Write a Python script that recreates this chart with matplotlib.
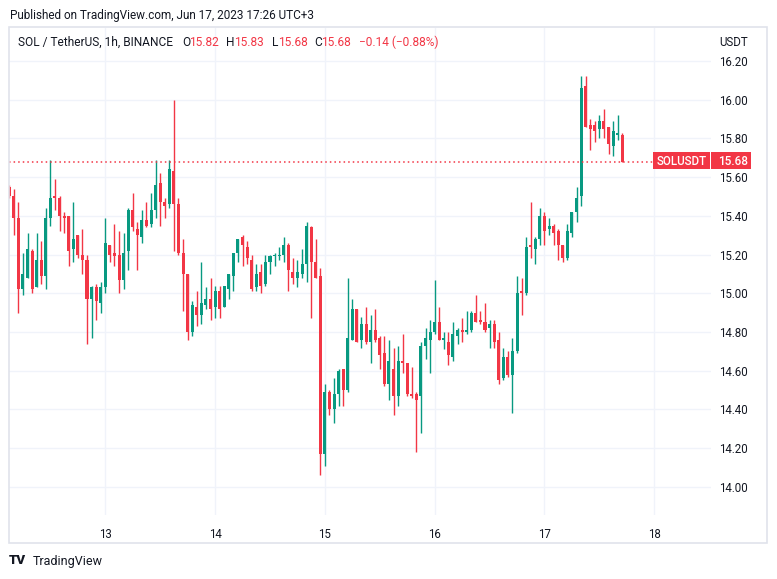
import numpy as np
import matplotlib
matplotlib.use('Agg')
import matplotlib.pyplot as plt
from matplotlib.patches import Rectangle

# hourly candles, hour 0 = Jun 12 00:00 (UTC+3)
first_hour = 3
opens = [15.55, 15.50, 15.39, 15.02, 15.08, 15.22, 15.03, 15.17, 15.09, 15.39,
         15.50, 15.49, 15.40, 15.40, 15.23, 15.30, 15.20, 15.17, 14.97, 15.03,
         14.95, 15.03, 15.25, 15.21, 15.20, 15.07, 15.22, 15.43, 15.33, 15.29,
         15.38, 15.36, 15.43, 15.57, 15.47, 15.46, 15.63, 15.46, 15.21, 15.10,
         14.80, 14.93, 14.89, 14.94, 14.97, 14.93, 15.01, 14.93, 15.02, 15.09,
         15.21, 15.29, 15.24, 15.17, 15.03, 15.11, 15.05, 15.16, 15.19, 15.19,
         15.20, 15.25, 15.11, 15.08, 15.10, 15.15, 15.34, 15.16, 15.09, 14.17,
         14.49, 14.40, 14.48, 14.61, 14.50, 14.76, 14.92, 14.76, 14.84, 14.75,
         14.81, 14.77, 14.69, 14.53, 14.61, 14.47, 14.65, 14.64, 14.48, 14.48,
         14.47, 14.73, 14.76, 14.80, 14.85, 14.76, 14.75, 14.67, 14.78, 14.81,
         14.80, 14.81, 14.90, 14.86, 14.85, 14.82, 14.84, 14.76, 14.56, 14.67,
         14.58, 14.70, 15.01, 15.00, 15.25, 15.23, 15.28, 15.40, 15.33, 15.35,
         15.32, 15.25, 15.18, 15.31, 15.42, 15.50, 16.07, 15.87, 15.87, 15.85,
         15.89, 15.86, 15.76, 15.82, 15.82]
highs = [15.56, 15.54, 15.47, 15.21, 15.31, 15.23, 15.31, 15.27, 15.44, 15.69,
         15.59, 15.50, 15.42, 15.40, 15.47, 15.30, 15.33, 15.20, 15.04, 15.05,
         15.06, 15.39, 15.25, 15.36, 15.32, 15.31, 15.44, 15.52, 15.37, 15.43,
         15.47, 15.52, 15.69, 15.62, 15.49, 15.69, 16.00, 15.49, 15.28, 15.10,
         14.96, 15.01, 15.16, 15.03, 15.08, 15.04, 15.04, 15.04, 15.10, 15.21,
         15.28, 15.30, 15.27, 15.20, 15.15, 15.15, 15.20, 15.20, 15.21, 15.24,
         15.29, 15.26, 15.18, 15.17, 15.23, 15.37, 15.35, 15.28, 15.13, 14.53,
         14.50, 14.56, 14.61, 14.61, 15.08, 14.97, 14.92, 14.88, 14.93, 14.89,
         14.92, 14.78, 14.78, 14.76, 14.72, 14.73, 14.79, 14.64, 14.62, 14.49,
         14.75, 14.82, 14.86, 15.07, 14.93, 14.80, 14.80, 14.85, 14.82, 14.87,
         14.91, 14.91, 14.99, 14.91, 14.95, 14.86, 14.86, 14.80, 14.72, 14.70,
         14.77, 15.09, 15.08, 15.29, 15.47, 15.29, 15.44, 15.42, 15.39, 15.36,
         15.33, 15.25, 15.36, 15.42, 15.55, 16.12, 16.12, 15.90, 15.89, 15.92,
         15.95, 15.86, 15.89, 15.92, 15.83]
lows = [15.49, 15.30, 14.90, 14.99, 15.08, 15.00, 15.03, 15.05, 15.02, 15.35,
        15.43, 15.32, 15.31, 15.14, 15.16, 15.18, 15.10, 14.74, 14.77, 14.86,
        14.90, 15.00, 15.16, 15.14, 15.00, 15.02, 15.12, 15.32, 15.12, 15.26,
        15.34, 15.34, 15.39, 15.35, 15.39, 15.44, 15.22, 15.20, 14.91, 14.76,
        14.78, 14.83, 14.84, 14.92, 14.86, 14.87, 14.87, 14.93, 14.97, 15.01,
        15.16, 15.14, 15.15, 15.01, 15.01, 15.00, 15.04, 15.10, 15.14, 15.17,
        15.16, 15.01, 15.05, 15.03, 15.08, 15.06, 14.87, 15.08, 14.06, 14.11,
        14.37, 14.33, 14.42, 14.42, 14.49, 14.76, 14.75, 14.72, 14.74, 14.64,
        14.75, 14.61, 14.52, 14.45, 14.37, 14.42, 14.59, 14.47, 14.46, 14.18,
        14.28, 14.66, 14.59, 14.79, 14.76, 14.71, 14.63, 14.65, 14.74, 14.75,
        14.79, 14.80, 14.85, 14.84, 14.80, 14.72, 14.72, 14.53, 14.55, 14.57,
        14.38, 14.69, 14.89, 14.99, 15.18, 15.15, 15.25, 15.25, 15.30, 15.25,
        15.17, 15.16, 15.17, 15.29, 15.37, 15.45, 15.86, 15.74, 15.78, 15.80,
        15.80, 15.72, 15.71, 15.79, 15.68]
closes = [15.50, 15.39, 15.02, 15.10, 15.23, 15.02, 15.17, 15.09, 15.39, 15.49,
          15.49, 15.40, 15.39, 15.22, 15.28, 15.20, 15.17, 14.97, 15.03, 14.96,
          15.03, 15.26, 15.20, 15.19, 15.07, 15.21, 15.43, 15.34, 15.30, 15.38,
          15.35, 15.43, 15.56, 15.47, 15.45, 15.64, 15.46, 15.21, 15.10, 14.80,
          14.94, 14.89, 14.95, 14.97, 14.92, 15.01, 14.92, 15.04, 15.10, 15.21,
          15.28, 15.25, 15.18, 15.02, 15.10, 15.04, 15.16, 15.19, 15.20, 15.20,
          15.25, 15.12, 15.08, 15.11, 15.15, 15.35, 15.16, 15.08, 14.17, 14.49,
          14.40, 14.48, 14.60, 14.50, 14.77, 14.92, 14.75, 14.84, 14.75, 14.81,
          14.76, 14.68, 14.53, 14.65, 14.47, 14.65, 14.64, 14.48, 14.47, 14.45,
          14.73, 14.77, 14.80, 14.85, 14.76, 14.77, 14.68, 14.79, 14.81, 14.80,
          14.81, 14.90, 14.85, 14.85, 14.81, 14.84, 14.75, 14.55, 14.67, 14.58,
          14.70, 15.00, 15.00, 15.24, 15.24, 15.28, 15.40, 15.32, 15.35, 15.31,
          15.25, 15.18, 15.32, 15.42, 15.49, 16.06, 15.86, 15.85, 15.84, 15.89,
          15.85, 15.77, 15.84, 15.83, 15.68]

day_ticks = [24, 48, 72, 96, 120, 144]
day_labels = ['13', '14', '15', '16', '17', '18']
price_ticks = [14.00, 14.20, 14.40, 14.60, 14.80, 15.00, 15.20, 15.40, 15.60, 15.80, 16.00, 16.20]
last_price = 15.68

up = '#089981'
down = '#f23645'
txt = '#131722'

plt.rcParams['font.family'] = ['Roboto', 'DejaVu Sans']

W, H = 777, 579
fig = plt.figure(figsize=(W / 100, H / 100), dpi=100)
# plot area in pixels: x 9..711, y 28..515
ax = fig.add_axes([9 / W, 1 - 515 / H, (711 - 9) / W, (515 - 28) / H])

o = np.array(opens)
c = np.array(closes)
hours = np.arange(first_hour, first_hour + len(opens))
cols = [up if cc >= oo else down for oo, cc in zip(o, c)]

ax.vlines(hours, lows, highs, colors=cols, lw=1)
ax.bar(hours, np.maximum(np.abs(c - o), 0.005), bottom=np.minimum(o, c),
       width=0.66, color=cols, lw=0)

ax.set_xlim(2.95, 156.4)
ax.set_ylim(13.855, 16.37)

ax.set_xticks(day_ticks)
ax.set_xticklabels(day_labels)
ax.set_yticks(price_ticks)
ax.set_yticklabels(['%.2f' % p for p in price_ticks])
ax.yaxis.tick_right()
ax.tick_params(length=0, labelsize=8.3, colors=txt)
ax.tick_params(axis='x', pad=9)
ax.tick_params(axis='y', pad=6)
ax.grid(color='#f0f3fa', lw=1)
ax.set_axisbelow(True)
for s in ax.spines.values():
    s.set_visible(False)

# last price line + labels
ax.plot([2.95, 144.0], [last_price, last_price], color=down, lw=1.1,
        linestyle=(0, (1, 2)))
ymid = 1 - 161.5 / H
fig.add_artist(Rectangle((653 / W, 1 - 169.5 / H), 57 / W, 17 / H,
                         transform=fig.transFigure, color=down, lw=0))
fig.add_artist(Rectangle((711 / W, 1 - 169.5 / H), 40 / W, 17 / H,
                         transform=fig.transFigure, color=down, lw=0))
fig.text(681.5 / W, ymid, 'SOLUSDT', color='white', fontsize=8.3,
         fontweight='medium', ha='center', va='center')
fig.text(748 / W, ymid, '%.2f' % last_price, color='white', fontsize=8.5,
         fontweight='medium', ha='right', va='center')

# frame
fig.add_artist(Rectangle((9 / W, 1 - 543 / H), (767 - 9) / W, (543 - 27) / H,
                         transform=fig.transFigure, fill=False,
                         ec='#e0e3eb', lw=1.2))

# header
fig.text(10 / W, 1 - 15 / H, 'Published on TradingView.com, Jun 17, 2023 17:26 UTC+3',
         color=txt, fontsize=8.5, va='center')
hy = 1 - 42 / H
fig.text(18 / W, hy, 'SOL / TetherUS, 1h, BINANCE', color=txt, fontsize=8.6, va='center')
parts = [(182, 'O', txt), (189, '15.82', down), (226, 'H', txt), (234, '15.83', down),
         (272, 'L', txt), (278, '15.68', down), (314, 'C', txt), (321, '15.68', down),
         (359, '\u22120.14 (\u22120.88%)', down)]
for px, s, col in parts:
    fig.text(px / W, hy, s, color=col, fontsize=8.6, va='center')
fig.text(748 / W, hy, 'USDT', color=txt, fontsize=8.3, va='center', ha='right')

# footer
fig.text(9 / W, 1 - 561 / H, 'TV', color=txt, fontsize=9.5, fontweight='heavy',
         va='center')
fig.text(33 / W, 1 - 561 / H, 'TradingView', color=txt, fontsize=9, va='center')

fig.savefig('out.png', dpi=100, facecolor='white')
